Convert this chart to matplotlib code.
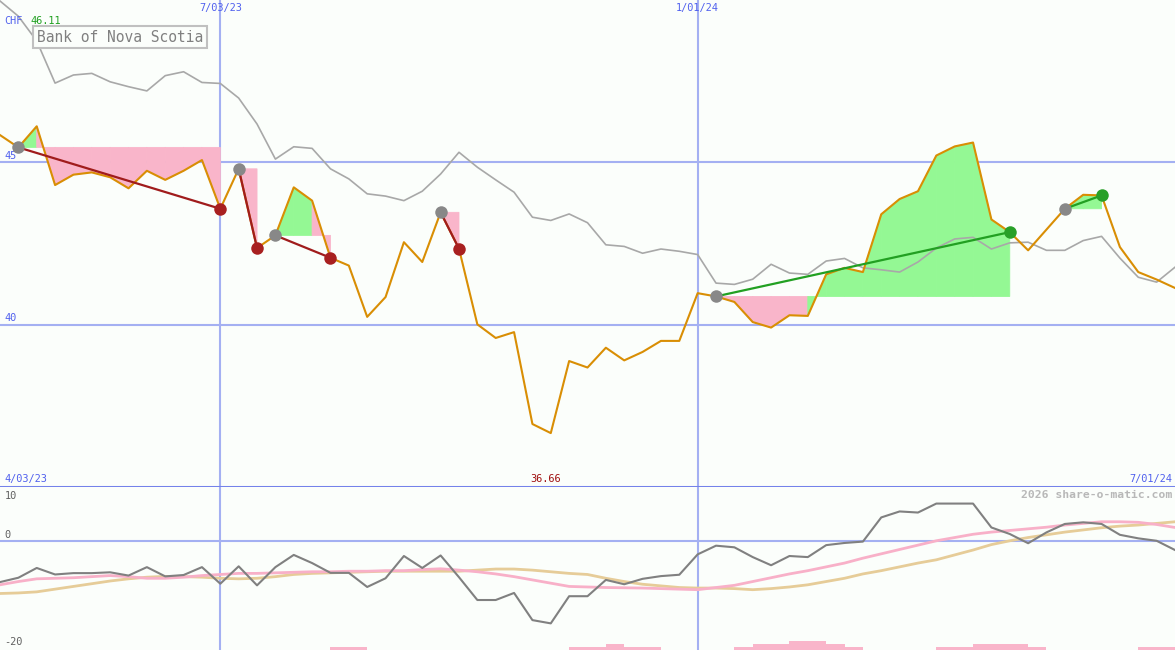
import matplotlib
matplotlib.use("Agg")
import matplotlib.pyplot as plt
import numpy as np

# weekly closes (CHF), week 0 = 10 Apr 2023 ... week 64 = 1 Jul 2024
price = [45.84, 45.46, 46.11, 44.30, 44.62, 44.69, 44.54, 44.20, 44.74, 44.46,
         44.74, 45.07, 43.57, 44.80, 42.36, 42.75, 44.23, 43.82, 42.06, 41.82,
         40.24, 40.85, 42.54, 41.93, 43.46, 42.34, 40.01, 39.59, 39.77, 36.94,
         36.66, 38.88, 38.68, 39.29, 38.90, 39.16, 39.50, 39.50, 40.97, 40.87,
         40.70, 40.08, 39.91, 40.29, 40.27, 41.55, 41.75, 41.62, 43.40, 43.87,
         44.11, 45.21, 45.49, 45.61, 43.24, 42.85, 42.29, 42.93, 43.57, 44.00,
         43.98, 42.39, 41.62, 41.39, 41.13]

# comparison index, rescaled to the price axis
bench = [49.97, 49.50, 48.74, 47.44, 47.69, 47.74, 47.48, 47.33, 47.20, 47.67,
         47.79, 47.46, 47.43, 46.98, 46.18, 45.10, 45.48, 45.43, 44.80, 44.49,
         44.03, 43.96, 43.82, 44.11, 44.64, 45.31, 44.85, 44.46, 44.08, 43.31,
         43.21, 43.41, 43.14, 42.46, 42.41, 42.20, 42.33, 42.26, 42.16, 41.28,
         41.24, 41.40, 41.86, 41.59, 41.55, 41.96, 42.04, 41.75, 41.69, 41.62,
         41.93, 42.36, 42.64, 42.69, 42.33, 42.52, 42.54, 42.29, 42.29, 42.59,
         42.72, 42.05, 41.46, 41.31, 41.77]

# trades: entry week -> exit week
entry_weeks = [1, 13, 15, 24, 39, 58]
exit_weeks = [12, 14, 18, 25, 55, 60]

# lower panel oscillator
osc = [-7.5, -6.7, -4.9, -6.1, -5.85, -5.85, -5.7, -6.3, -4.75, -6.45,
       -6.2, -4.75, -7.8, -4.6, -8.1, -4.75, -2.5, -4.0, -5.8, -5.8,
       -8.4, -6.8, -2.7, -4.9, -2.6, -6.6, -10.8, -10.8, -9.5, -14.5,
       -15.1, -10.1, -10.1, -7.1, -7.9, -6.9, -6.4, -6.15, -2.4, -0.8,
       -1.1, -2.9, -4.4, -2.7, -2.9, -0.7, -0.3, -0.05, 4.4, 5.5,
       5.3, 6.95, 6.95, 6.95, 2.55, 1.35, -0.35, 1.65, 3.2, 3.5,
       3.2, 1.2, 0.55, 0.1, -1.6]
osc_fast = [-8.0, -7.4, -6.9, -6.8, -6.7, -6.5, -6.3, -6.5, -6.8, -6.8,
            -6.6, -6.3, -6.1, -5.9, -5.9, -5.8, -5.7, -5.6, -5.6, -5.5,
            -5.5, -5.4, -5.4, -5.2, -5.05, -5.3, -5.6, -6.0, -6.5, -7.1,
            -7.7, -8.3, -8.4, -8.5, -8.55, -8.6, -8.7, -8.8, -8.9, -8.5,
            -8.1, -7.4, -6.7, -6.0, -5.4, -4.7, -4.0, -3.1, -2.3, -1.5,
            -0.7, 0.1, 0.7, 1.3, 1.7, 2.0, 2.3, 2.6, 3.0, 3.3,
            3.6, 3.6, 3.5, 3.1, 2.55]
osc_slow = [-9.6, -9.5, -9.3, -8.8, -8.3, -7.8, -7.3, -6.9, -6.6, -6.45,
            -6.5, -6.6, -6.8, -6.9, -6.8, -6.5, -6.1, -5.9, -5.8, -5.7,
            -5.6, -5.5, -5.5, -5.5, -5.5, -5.5, -5.3, -5.1, -5.1, -5.3,
            -5.6, -5.9, -6.1, -6.8, -7.4, -7.9, -8.2, -8.5, -8.6, -8.6,
            -8.7, -8.9, -8.7, -8.4, -8.0, -7.4, -6.8, -6.0, -5.4, -4.7,
            -4.0, -3.4, -2.5, -1.6, -0.6, 0.1, 0.7, 1.2, 1.7, 2.1,
            2.5, 2.8, 3.0, 3.3, 3.6]
bars = [0, 0, 0, 0, 0, 0, 0, 0, 0, 0,
        0, 0, 0, 0, 0, 0, 0, 0, 0.5, 0.5,
        0, 0, 0, 0, 0, 0, 0, 0, 0, 0,
        0, 0.5, 0.5, 1.1, 0.5, 0.5, 0, 0, 0, 0,
        0.5, 1.1, 1.1, 1.65, 1.65, 1.1, 0.5, 0, 0, 0,
        0, 0.5, 0.5, 1.1, 1.1, 1.1, 0.5, 0, 0, 0,
        0, 0, 0.5, 0.5, 0]

weeks = np.arange(len(price))
date_marks = [12, 38]
date_labels = ["7/03/23", "1/01/24"]

bg = "#fbfefb"
grid = "#a4b0f2"
blue = "#5060ee"
mono = "DejaVu Sans Mono"

fig = plt.figure(figsize=(11.75, 6.5), dpi=100, facecolor=bg)
ax1 = fig.add_axes([0, 163 / 650, 1, 487 / 650], facecolor=bg)
ax2 = fig.add_axes([0, 0, 1, 163 / 650], facecolor=bg)

for ax in (ax1, ax2):
    ax.set_xlim(0, 64)
    ax.set_xticks([])
    ax.set_yticks([])
    for s in ax.spines.values():
        s.set_visible(False)
    for m in date_marks:
        ax.axvline(m, color=grid, lw=1.5, zorder=1)

# ---- price panel
ax1.set_ylim(35, 50)
for lvl in (45, 40):
    ax1.axhline(lvl, color=grid, lw=1.5, zorder=1)
    ax1.text(0.004, lvl + 0.2, str(lvl), transform=ax1.get_yaxis_transform(),
             color=blue, fontsize=7.4, family=mono, va="center")
ax1.spines["bottom"].set_visible(True)
ax1.spines["bottom"].set_color("#7482ea")
ax1.spines["bottom"].set_linewidth(2.2)

# trade shading, one quad per week
for e, x in zip(entry_weeks, exit_weeks):
    lvl = price[e]
    for i in range(e, x):
        col = "#94f894" if price[i + 1] > lvl else "#f9b5ca"
        ax1.fill([i, i, i + 1, i + 1], [lvl, price[i], price[i + 1], lvl],
                 color=col, ec=col, lw=0.6, zorder=2)

ax1.plot(weeks, bench, color="#a8a8a8", lw=1.2, zorder=3)
ax1.plot(weeks, price, color="#d98e04", lw=1.5, zorder=4)

for e, x in zip(entry_weeks, exit_weeks):
    win = price[x] > price[e]
    lc = "#22a022" if win else "#a01c1c"
    dc = "#28a028" if win else "#a82020"
    ax1.plot([e, x], [price[e], price[x]], color=lc, lw=1.6, zorder=5)
    ax1.plot(e, price[e], "o", ms=9, color="#888888", mec="none", zorder=6)
    ax1.plot(x, price[x], "o", ms=9, color=dc, mec="none", zorder=6)

xt = ax1.get_xaxis_transform()
for m, lab in zip(date_marks, date_labels):
    ax1.text(m, 0.984, lab, transform=xt, color=blue, fontsize=7.4,
             family=mono, ha="center", va="center")
ax1.text(0.004, 0.016, "4/03/23", transform=ax1.transAxes, color=blue,
         fontsize=7.4, family=mono, va="center")
ax1.text(0.9974, 0.016, "7/01/24", transform=ax1.transAxes, color=blue,
         fontsize=7.4, family=mono, va="center", ha="right")
ax1.text(29.7, 0.016, "%.2f" % min(price), transform=xt, color="#a01010",
         fontsize=7.4, family=mono, va="center", ha="center")
ax1.text(0.004, 0.957, "CHF", transform=ax1.transAxes, color=blue,
         fontsize=7.4, family=mono, va="center")
ax1.text(0.026, 0.957, "%.2f" % max(price), transform=ax1.transAxes,
         color="#20a020", fontsize=7.4, family=mono, va="center")
ax1.text(0.0315, 0.924, "Bank of Nova Scotia", transform=ax1.transAxes,
         color="#808080", fontsize=10.5, family=mono, va="center", zorder=7,
         bbox=dict(boxstyle="square,pad=0.25", fc=bg, ec="#c0c0c0", lw=1.5))

# ---- oscillator panel
ax2.set_ylim(-20, 10)
ax2.axhline(0, color=grid, lw=1.5, zorder=1)
ax2.bar(weeks, bars, width=1, bottom=-20, align="edge", color="#f9b5ca",
        lw=0, zorder=2)
ax2.plot(weeks, osc_slow, color="#e6cc98", lw=2, zorder=3)
ax2.plot(weeks, osc_fast, color="#f8b0c8", lw=2, zorder=3)
ax2.plot(weeks, osc, color="#808080", lw=1.5, zorder=4)
for y, lab in ((0.945, "10"), (0.706, "0"), (0.049, "-20")):
    ax2.text(0.004, y, lab, transform=ax2.transAxes, color="#606060",
             fontsize=7.4, family=mono, va="center")
ax2.text(0.9974, 0.951, "2026 share-o-matic.com", transform=ax2.transAxes,
         color="#b8b8b8", fontsize=8.2, family=mono, fontweight="bold",
         va="center", ha="right")

fig.savefig("out.png", dpi=100, facecolor=bg)
